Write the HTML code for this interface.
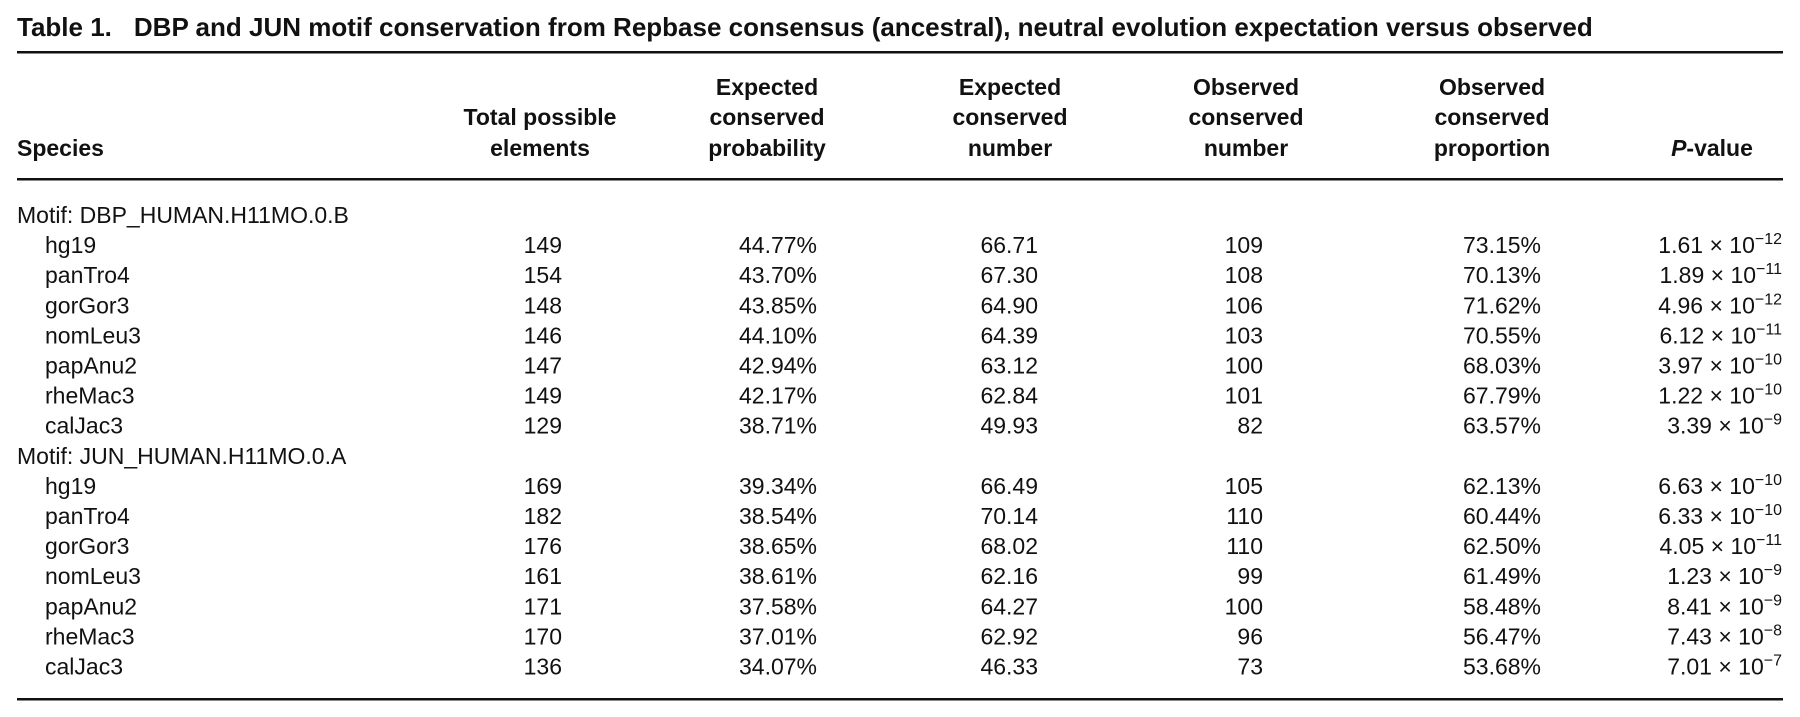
<!DOCTYPE html>
<html><head><meta charset="utf-8"><style>
html,body{margin:0;padding:0;background:#fff;}
svg{display:block;font-family:"Liberation Sans",sans-serif;}
</style></head><body>
<svg id="t" width="1800" height="717" viewBox="0 0 1800 717">
<text x="17" y="36" font-size="26" font-weight="bold" fill="#111">Table 1.<tspan dx="22">DBP and JUN motif conservation from Repbase consensus (ancestral), neutral evolution expectation versus observed</tspan></text>
<rect x="17" y="51" width="1766" height="2.5" fill="#111"/>
<rect x="17" y="178" width="1766" height="2.5" fill="#111"/>
<rect x="17" y="698" width="1766" height="2.5" fill="#111"/>
<g font-size="23" font-weight="bold" fill="#111" text-anchor="middle">
<text x="17" y="156" text-anchor="start">Species</text>
<text x="540" y="125">Total possible</text>
<text x="540" y="156">elements</text>
<text x="767" y="95">Expected</text>
<text x="767" y="125">conserved</text>
<text x="767" y="156">probability</text>
<text x="1010" y="95">Expected</text>
<text x="1010" y="125">conserved</text>
<text x="1010" y="156">number</text>
<text x="1246" y="95">Observed</text>
<text x="1246" y="125">conserved</text>
<text x="1246" y="156">number</text>
<text x="1492" y="95">Observed</text>
<text x="1492" y="125">conserved</text>
<text x="1492" y="156">proportion</text>
<text x="1712" y="156"><tspan font-style="italic">P</tspan>-value</text>
</g>
<g id="body" font-size="23" fill="#111"></g>
</svg>
<script>
const motifs = ["Motif: DBP_HUMAN.H11MO.0.B", "Motif: JUN_HUMAN.H11MO.0.A"];
const species = ["hg19","panTro4","gorGor3","nomLeu3","papAnu2","rheMac3","calJac3"];
const totals = [[149,154,148,146,147,149,129],[169,182,176,161,171,170,136]];
const expProb = [["44.77%","43.70%","43.85%","44.10%","42.94%","42.17%","38.71%"],["39.34%","38.54%","38.65%","38.61%","37.58%","37.01%","34.07%"]];
const expNum = [["66.71","67.30","64.90","64.39","63.12","62.84","49.93"],["66.49","70.14","68.02","62.16","64.27","62.92","46.33"]];
const obsNum = [[109,108,106,103,100,101,82],[105,110,110,99,100,96,73]];
const obsProp = [["73.15%","70.13%","71.62%","70.55%","68.03%","67.79%","63.57%"],["62.13%","60.44%","62.50%","61.49%","58.48%","56.47%","53.68%"]];
const pMant = [["1.61","1.89","4.96","6.12","3.97","1.22","3.39"],["6.63","6.33","4.05","1.23","8.41","7.43","7.01"]];
const pExp = [[-12,-11,-12,-11,-10,-10,-9],[-10,-10,-11,-9,-9,-8,-7]];

const NS="http://www.w3.org/2000/svg";
const body=document.getElementById('body');
const y0=223, step=30.1;
function txt(x,y,s,anchor){const t=document.createElementNS(NS,'text');t.setAttribute('x',x);t.setAttribute('y',y);if(anchor)t.setAttribute('text-anchor',anchor);t.textContent=s;body.appendChild(t);return t;}
let row=0;
motifs.forEach((m,g)=>{
  let t=txt(17,y0+row*step,m);
  
  
  row++;
  species.forEach((s,i)=>{
    const y=y0+row*step;
    t=txt(45,y,s);
    
    
    t=txt(562,y,String(totals[g][i]),'end');
    
    
    t=txt(817,y,expProb[g][i],'end');
    
    
    t=txt(1038,y,expNum[g][i],'end');
    
    
    t=txt(1263,y,String(obsNum[g][i]),'end');
    
    
    t=txt(1541,y,obsProp[g][i],'end');
    
    
    t=txt(1782,y,'','end');
    
    
    const a=document.createElementNS(NS,'tspan');a.textContent=pMant[g][i]+' \u00d7 10';t.appendChild(a);
    const b=document.createElementNS(NS,'tspan');b.setAttribute('dy','-9');b.setAttribute('font-size','16');b.textContent='\u2212'+Math.abs(pExp[g][i]);t.appendChild(b);
    row++;
  });
});
</script>
</body></html>
